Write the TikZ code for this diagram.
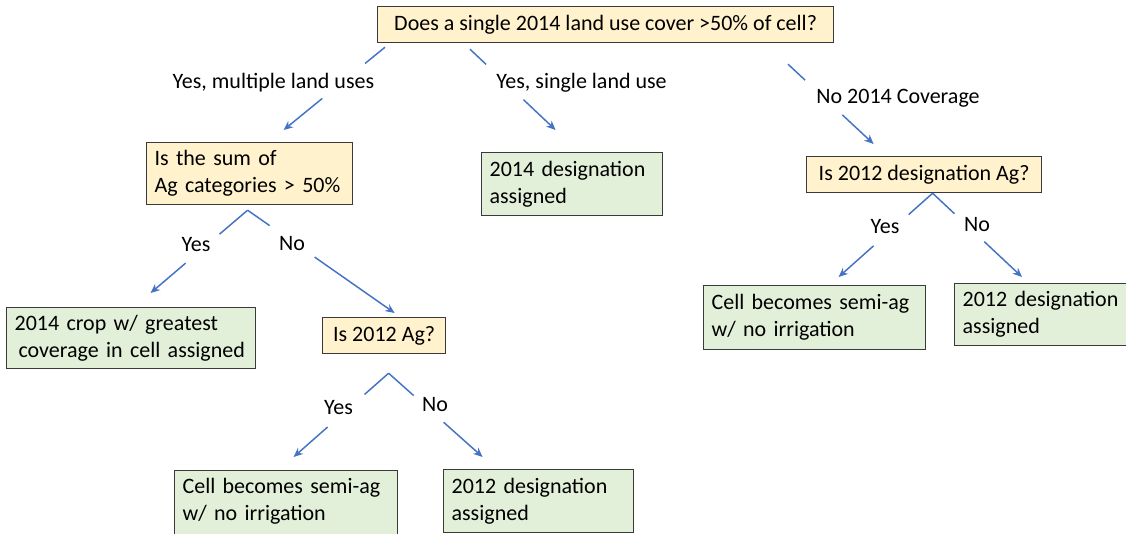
\documentclass[tikz,border=0pt]{standalone}
\usepackage{fontspec}
\setmainfont{Carlito}
\usetikzlibrary{arrows.meta,calc}
\definecolor{qfill}{HTML}{FFF2CC}
\definecolor{afill}{HTML}{E2F0D9}
\definecolor{boxline}{HTML}{3A3A3A}
\definecolor{linkblue}{HTML}{4472C4}
\newcommand\flowfont{\fontsize{16.5pt}{20.25pt}\selectfont}
\begin{document}
\begin{tikzpicture}[x=0.75pt,y=-0.75pt,
  box/.style={draw=boxline, line width=0.9pt, anchor=north west,
    inner xsep=6pt, inner ysep=0pt, font=\flowfont},
  multi/.style={align=left, text width=#1},
  qbox/.style={box, fill=qfill},
  abox/.style={box, fill=afill},
  lab/.style={anchor=base, inner sep=0pt, font=\flowfont},
  link/.style={draw=linkblue, line width=1.1pt},
  arr/.style={link, -{Stealth[length=7pt, width=6pt]}}]
\fill[white] (0,0) rectangle (1126,533);
\useasboundingbox (0,0) rectangle (1126,533);

% decision boxes
\node[qbox, minimum width=342pt, minimum height=27pt] (top) at (377,6)
  {Does a single 2014 land use cover >50\% of cell?};
\node[qbox, minimum width=154.5pt, minimum height=46.5pt, multi=142.5pt] (sum) at (146,142)
  {Is the sum of\\Ag categories > 50\%};
\node[qbox, minimum width=176.25pt, minimum height=27pt] (des12) at (806,156)
  {Is 2012 designation Ag?};
\node[qbox, minimum width=92.25pt, minimum height=27pt] (ag12) at (322,317)
  {Is 2012 Ag?};

% outcome boxes
\node[abox, minimum width=135.75pt, minimum height=47.25pt, multi=123.75pt] (single) at (481,152)
  {2014 designation\\assigned};
\node[abox, minimum width=186.75pt, minimum height=45.75pt, multi=174.75pt] (crop) at (6,307)
  {2014 crop w/ greatest\\\hspace*{3pt}coverage in cell assigned};
\node[abox, minimum width=166.5pt, minimum height=48pt, multi=154.5pt] (semiR) at (703,285)
  {Cell becomes semi-ag\\w/ no irrigation};
\node[abox, minimum width=145pt, minimum height=46.5pt, multi=133pt] (desR) at (954,283)
  {2012 designation\\assigned};
\node[abox, minimum width=167.25pt, minimum height=63pt, multi=155.25pt] (semiB) at (174,470)
  {Cell becomes semi-ag\\w/ no irrigation\\\mbox{}};
\node[abox, minimum width=142.5pt, minimum height=47.25pt, multi=130.5pt] (desB) at (443,469)
  {2012 designation\\assigned};

% branch labels
\node[lab] (lmulti) at (273.5,88) {Yes, multiple land uses};
\node[lab] (lsingle) at (581.5,88) {Yes, single land use};
\node[lab] (lnone) at (898,103) {No 2014 Coverage};
\node[lab] (lyesA) at (196,251.5) {Yes};
\node[lab] (lnoA) at (292,250) {No};
\node[lab] (lyesB) at (338.5,414) {Yes};
\node[lab] (lnoB) at (435,411.5) {No};
\node[lab] (lyesC) at (885,233) {Yes};
\node[lab] (lnoC) at (977,231) {No};

% connector ends
\coordinate (c1s) at ($(top.south west)+(8,4)$);
\coordinate (c1e) at ($(sum.north)+(34,-12)$);
\coordinate (c2s) at ($(top.south west)+(93,6)$);
\coordinate (c2e) at ($(single.north)+(-16.5,-22)$);
\coordinate (c3s) at ($(top.south west)+(411,21)$);
\coordinate (c3e) at ($(des12.north)+(-50.5,-12)$);
\coordinate (sumfork) at ($(sum.south)+(-2,5)$);
\coordinate (c4e) at ($(crop.north)+(19.5,-14)$);
\coordinate (c5e) at ($(ag12.north)+(10.5,-4)$);
\coordinate (agfork) at ($(ag12.south)+(4.5,19)$);
\coordinate (c6e) at ($(semiB.north)+(7.5,-13)$);
\coordinate (c7e) at ($(desB.north)+(-56,-12)$);
\coordinate (desfork) at ($(des12.south)+(8.5,0)$);
\coordinate (c8e) at ($(semiR.north)+(24,-8)$);
\coordinate (c9e) at ($(desR.north west)+(68,-6)$);

% connectors, broken where the branch label sits
\draw[link] (c1s) -- ($(c1s)!0.196!(c1e)$);
\draw[arr] ($(c1s)!0.618!(c1e)$) -- (c1e);
\draw[link] (c2s) -- ($(c2s)!0.188!(c2e)$);
\draw[arr] ($(c2s)!0.624!(c2e)$) -- (c2e);
\draw[link] (c3s) -- ($(c3s)!0.2!(c3e)$);
\draw[arr] ($(c3s)!0.635!(c3e)$) -- (c3e);
\draw[link] (sumfork) -- ($(sumfork)!0.289!(c4e)$);
\draw[arr] ($(sumfork)!0.639!(c4e)$) -- (c4e);
\draw[link] (sumfork) -- ($(sumfork)!0.15!(c5e)$);
\draw[arr] ($(sumfork)!0.456!(c5e)$) -- (c5e);
\draw[link] (agfork) -- ($(agfork)!0.253!(c6e)$);
\draw[arr] ($(agfork)!0.642!(c6e)$) -- (c6e);
\draw[link] (agfork) -- ($(agfork)!0.266!(c7e)$);
\draw[arr] ($(agfork)!0.585!(c7e)$) -- (c7e);
\draw[link] (desfork) -- ($(desfork)!0.255!(c8e)$);
\draw[arr] ($(desfork)!0.628!(c8e)$) -- (c8e);
\draw[link] (desfork) -- ($(desfork)!0.244!(c9e)$);
\draw[arr] ($(desfork)!0.578!(c9e)$) -- (c9e);
\end{tikzpicture}
\end{document}
